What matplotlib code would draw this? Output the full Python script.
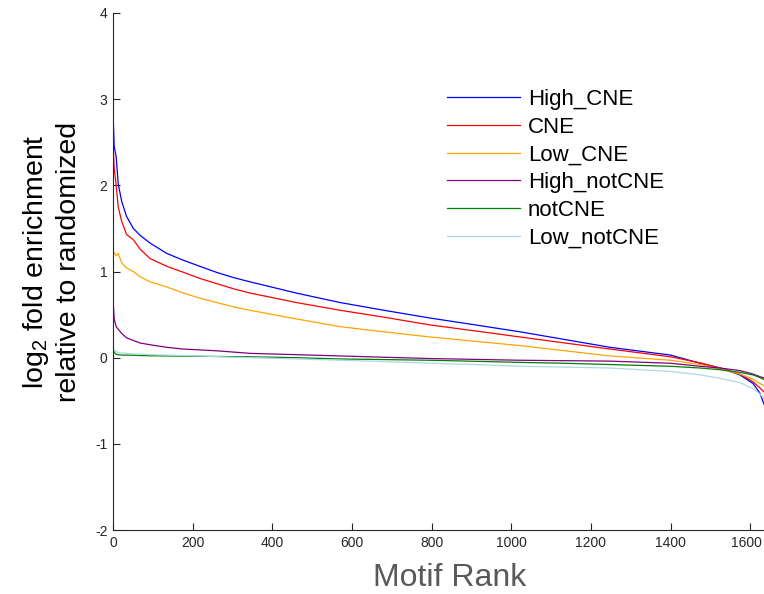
import matplotlib
matplotlib.use("Agg")
import matplotlib.pyplot as plt
import matplotlib.transforms as mtransforms

plt.rcParams['font.family'] = ['Liberation Sans', 'DejaVu Sans']
plt.rcParams['mathtext.default'] = 'regular'
plt.rcParams['axes.unicode_minus'] = False

rank = [0, 3, 8, 13, 22, 34, 51, 68, 93, 135, 177, 218, 260, 302, 344, 460, 570,
        680, 796, 910, 1022, 1135, 1248, 1400, 1474, 1524, 1574, 1607, 1624, 1637]

high_cne = [2.85, 2.45, 2.33, 2.02, 1.81, 1.64, 1.50, 1.42, 1.33, 1.21, 1.13, 1.06, 0.99, 0.93,
            0.88, 0.75, 0.64, 0.55, 0.46, 0.38, 0.30, 0.21, 0.12, 0.03, -0.065, -0.12, -0.20,
            -0.30, -0.41, -0.57]
cne = [2.49, 2.2, 2.0, 1.75, 1.58, 1.43, 1.37, 1.26, 1.15, 1.06, 0.99, 0.92, 0.86, 0.80, 0.75,
       0.64, 0.55, 0.47, 0.38, 0.31, 0.24, 0.17, 0.10, 0.01, -0.06, -0.12, -0.19, -0.28, -0.35,
       -0.41]
low_cne = [1.20, 1.22, 1.18, 1.21, 1.10, 1.04, 1.00, 0.94, 0.88, 0.82, 0.75, 0.69, 0.64, 0.59,
           0.55, 0.45, 0.36, 0.30, 0.24, 0.19, 0.14, 0.08, 0.02, -0.03, -0.08, -0.13, -0.19,
           -0.25, -0.30, -0.33]
high_notcne = [0.68, 0.45, 0.36, 0.33, 0.28, 0.23, 0.20, 0.17, 0.15, 0.12, 0.10, 0.09, 0.08,
               0.065, 0.05, 0.035, 0.02, 0.005, -0.01, -0.02, -0.03, -0.035, -0.04, -0.065,
               -0.10, -0.12, -0.15, -0.19, -0.22, -0.24]
notcne = [0.10, 0.06, 0.04, 0.035, 0.03, 0.03, 0.028, 0.025, 0.022, 0.02, 0.018, 0.016, 0.014,
          0.012, 0.01, 0.0, -0.015, -0.022, -0.03, -0.042, -0.055, -0.065, -0.08, -0.10, -0.12,
          -0.14, -0.17, -0.20, -0.23, -0.26]
low_notcne = [0.13, 0.09, 0.07, 0.06, 0.055, 0.05, 0.045, 0.04, 0.035, 0.03, 0.025, 0.02,
              0.012, 0.005, 0.0, -0.015, -0.03, -0.045, -0.065, -0.08, -0.10, -0.11, -0.12,
              -0.16, -0.20, -0.24, -0.29, -0.36, -0.42, -0.49]

series = [
    ("High_CNE", high_cne, "#0000FF"),
    ("CNE", cne, "#FF0000"),
    ("Low_CNE", low_cne, "#FFA500"),
    ("High_notCNE", high_notcne, "#800080"),
    ("notCNE", notcne, "#008000"),
    ("Low_notCNE", low_notcne, "#ADD8E6"),
]

fig = plt.figure(figsize=(7.64, 5.94), dpi=100)
ax = fig.add_axes([113 / 764, 64 / 594, 652 / 764, 517 / 594])

for name, vals, col in series:
    ax.plot(rank, vals, color=col, lw=0.9, label=name)

ax.set_xlim(0, 1637)
ax.set_ylim(-2, 4)
ax.set_xticks(range(0, 1601, 200))
ax.set_yticks(range(-2, 5))

for s in ['top', 'right']:
    ax.spines[s].set_visible(False)
for s in ['left', 'bottom']:
    ax.spines[s].set_color('#262626')
    ax.spines[s].set_linewidth(0.8)
ax.tick_params(direction='in', length=5, width=0.8, colors='#262626', labelsize=10, pad=4)

# last x tick label sits right at the figure edge; nudge it left a little
last = ax.get_xticklabels()[-1]
last.set_transform(last.get_transform() +
                   mtransforms.ScaledTranslation(-4 / 100, 0, fig.dpi_scale_trans))

# y label placed by hand (MATLAB-like spacing)
fig.text(51.5 / 764, 1 - 262 / 594, "log$_2$ fold enrichment\nrelative to randomized",
         rotation=90, ha='center', va='center', fontsize=20.5, color='black',
         linespacing=1.25, multialignment='center')
ax.set_xlabel("Motif Rank", fontsize=23, color='#595959')
ax.xaxis.set_label_coords((450 - 113) / 652, -0.093)
ax.xaxis.label.set_va('center')

ax.legend(loc='upper left', bbox_to_anchor=(0.512, 0.853), frameon=False, fontsize=16,
          handlelength=3.3, handletextpad=0.35, labelspacing=0.3, borderpad=0, borderaxespad=0)

fig.savefig("out.png", dpi=100)
